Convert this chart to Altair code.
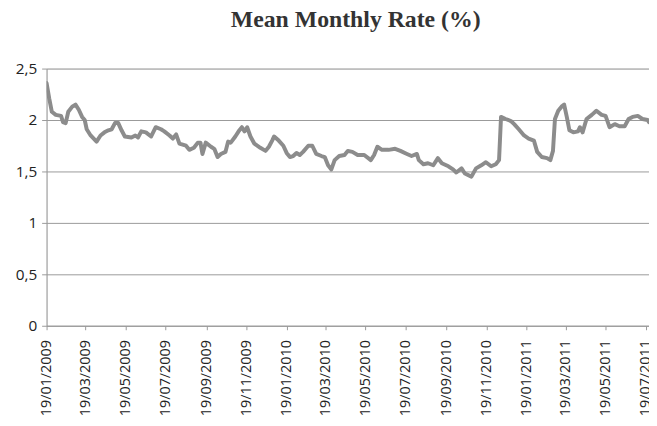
import altair as alt
import pandas as pd

dates = [
    "2009-01-19", "2009-01-23", "2009-01-27", "2009-02-02", "2009-02-10", "2009-02-13", "2009-02-17",
    "2009-02-21", "2009-02-27", "2009-03-04", "2009-03-09", "2009-03-14", "2009-03-18", "2009-03-21",
    "2009-03-27", "2009-04-05", "2009-04-11", "2009-04-17", "2009-04-23", "2009-04-28", "2009-05-03",
    "2009-05-08", "2009-05-13", "2009-05-18", "2009-05-28", "2009-06-03", "2009-06-07", "2009-06-12",
    "2009-06-19", "2009-06-27", "2009-07-04", "2009-07-12", "2009-07-17", "2009-07-25", "2009-07-30",
    "2009-08-04", "2009-08-09", "2009-08-19", "2009-08-24", "2009-08-31", "2009-09-06", "2009-09-10",
    "2009-09-13", "2009-09-18", "2009-09-26", "2009-10-01", "2009-10-06", "2009-10-11", "2009-10-18",
    "2009-10-22", "2009-10-26", "2009-11-02", "2009-11-07", "2009-11-12", "2009-11-16", "2009-11-20",
    "2009-11-25", "2009-12-01", "2009-12-10", "2009-12-18", "2009-12-23", "2009-12-28", "2009-12-31",
    "2010-01-07", "2010-01-14", "2010-01-19", "2010-01-24", "2010-01-29", "2010-02-03", "2010-02-08",
    "2010-02-13", "2010-02-21", "2010-02-27", "2010-03-05", "2010-03-13", "2010-03-18", "2010-03-23",
    "2010-03-28", "2010-04-02", "2010-04-09", "2010-04-17", "2010-04-22", "2010-04-29", "2010-05-07",
    "2010-05-17", "2010-05-27", "2010-06-01", "2010-06-06", "2010-06-13", "2010-06-23", "2010-07-03",
    "2010-07-11", "2010-07-21", "2010-07-28", "2010-08-05", "2010-08-08", "2010-08-15", "2010-08-22",
    "2010-08-30", "2010-09-06", "2010-09-12", "2010-09-22", "2010-09-29", "2010-10-04", "2010-10-12",
    "2010-10-17", "2010-10-27", "2010-11-03", "2010-11-11", "2010-11-18", "2010-11-26", "2010-12-03",
    "2010-12-08", "2010-12-11", "2010-12-18", "2010-12-26", "2010-12-31", "2011-01-07", "2011-01-15",
    "2011-01-22", "2011-01-30", "2011-02-04", "2011-02-11", "2011-02-19", "2011-02-24", "2011-02-28",
    "2011-03-03", "2011-03-08", "2011-03-13", "2011-03-17", "2011-03-21", "2011-03-25", "2011-03-31",
    "2011-04-07", "2011-04-10", "2011-04-14", "2011-04-20", "2011-04-28", "2011-05-05", "2011-05-13",
    "2011-05-19", "2011-05-25", "2011-06-02", "2011-06-09", "2011-06-17", "2011-06-23", "2011-06-29",
    "2011-07-07", "2011-07-14", "2011-07-22", "2011-07-24",
]

rates = [
    2.36, 2.21, 2.08, 2.05, 2.04, 1.98, 1.97,
    2.08, 2.13, 2.15, 2.10, 2.03, 2.00, 1.91,
    1.85, 1.79, 1.85, 1.88, 1.90, 1.91, 1.97,
    1.97, 1.90, 1.84, 1.83, 1.85, 1.83, 1.89,
    1.88, 1.84, 1.93, 1.91, 1.89, 1.85, 1.82,
    1.86, 1.77, 1.75, 1.71, 1.73, 1.78, 1.78,
    1.67, 1.78, 1.74, 1.72, 1.64, 1.67, 1.69,
    1.79, 1.78, 1.84, 1.89, 1.93, 1.89, 1.93,
    1.84, 1.77, 1.73, 1.70, 1.74, 1.80, 1.84,
    1.80, 1.75, 1.68, 1.64, 1.65, 1.68, 1.66,
    1.69, 1.75, 1.75, 1.67, 1.65, 1.64, 1.56,
    1.52, 1.61, 1.65, 1.66, 1.70, 1.69, 1.66,
    1.66, 1.61, 1.66, 1.74, 1.71, 1.71, 1.72,
    1.70, 1.67, 1.65, 1.67, 1.61, 1.57, 1.58,
    1.56, 1.63, 1.58, 1.55, 1.52, 1.49, 1.53,
    1.48, 1.45, 1.53, 1.56, 1.59, 1.55, 1.57,
    1.61, 2.03, 2.01, 1.99, 1.96, 1.91, 1.85,
    1.82, 1.80, 1.69, 1.64, 1.63, 1.61, 1.70,
    2.01, 2.09, 2.13, 2.15, 2.03, 1.90, 1.88,
    1.89, 1.93, 1.88, 2.01, 2.05, 2.09, 2.05,
    2.04, 1.93, 1.96, 1.94, 1.94, 2.01, 2.03,
    2.04, 2.01, 2.00, 1.98,
]

tick_months = [(2009, 1), (2009, 3), (2009, 5), (2009, 7), (2009, 9), (2009, 11),
               (2010, 1), (2010, 3), (2010, 5), (2010, 7), (2010, 9), (2010, 11),
               (2011, 1), (2011, 3), (2011, 5), (2011, 7)]
y_ticks = [0, 0.5, 1, 1.5, 2, 2.5]

df = pd.DataFrame({"date": dates, "rate": rates})

tick_values = [alt.DateTime(year=y, month=m, date=19, utc=True) for y, m in tick_months]

axis_color = "#9a9a9a"

chart = (
    alt.Chart(df)
    .mark_line(color="#8c8c8c", strokeWidth=4, strokeJoin="round", strokeCap="round", clip=True)
    .encode(
        x=alt.X(
            "date:T",
            scale=alt.Scale(
                type="utc",
                domain=[alt.DateTime(year=2009, month=1, date=19, utc=True),
                        alt.DateTime(year=2011, month=7, date=24, utc=True)],
            ),
            axis=alt.Axis(
                title=None,
                values=tick_values,
                labelExpr="utcFormat(datum.value, '%d/%m/%Y')",
                labelAngle=270,
                labelAlign="right",
                labelBaseline="middle",
                labelPadding=10,
                tickSize=4,
                grid=False,
                domainColor=axis_color,
                tickColor=axis_color,
                labelFont="Open Sans",
                labelFontSize=14.5,
                labelColor="#222222",
                labelOverlap=False,
                labelFlush=False,
            ),
        ),
        y=alt.Y(
            "rate:Q",
            scale=alt.Scale(domain=[0, 2.5], nice=False, zero=True),
            axis=alt.Axis(
                title=None,
                values=y_ticks,
                labelExpr="replace(format(datum.value, '.1~f'), '.', ',')",
                tickSize=5,
                labelPadding=5,
                grid=True,
                gridColor=axis_color,
                domainColor=axis_color,
                tickColor=axis_color,
                labelFont="Open Sans",
                labelFontSize=15.5,
                labelColor="#222222",
            ),
        ),
    )
    .properties(
        width=609,
        height=260,
        padding={"left": 39, "top": 59, "right": 0, "bottom": 91},
        autosize=alt.AutoSizeParams(type="none"),
        title=alt.TitleParams(
            "Mean Monthly Rate (%)",
            font="Liberation Serif",
            fontSize=24,
            fontWeight="bold",
            color="#333333",
            anchor="middle",
            frame="group",
            offset=30,
            dx=8,
        ),
    )
    .configure_view(stroke="transparent")
    .configure(background="white")
)

chart.save("out.html", embed_options={"renderer": "svg", "actions": False})
